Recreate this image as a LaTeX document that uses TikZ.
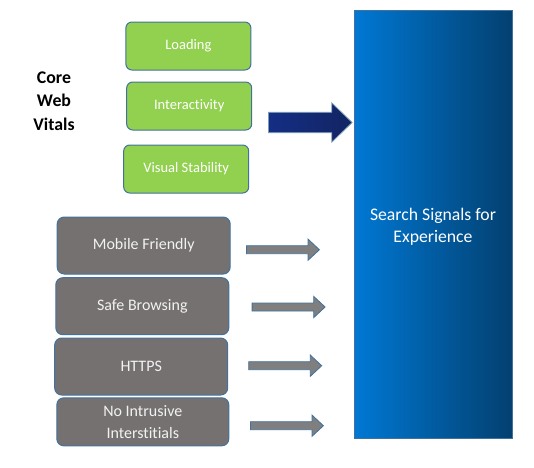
\documentclass[tikz,border=0pt]{standalone}
\usepackage{fontspec}
\setmainfont{Carlito}[Ligatures=NoCommon]
\usetikzlibrary{shapes.arrows}

\definecolor{vitalgreen}{RGB}{146,208,80}
\definecolor{edgeblue}{RGB}{65,113,156}
\definecolor{signalgray}{RGB}{118,113,113}
\definecolor{arrowgray}{RGB}{127,127,127}
\definecolor{signalblue}{RGB}{0,120,212}
\definecolor{signaldark}{RGB}{3,64,112}
\definecolor{navy}{RGB}{18,36,98}
\definecolor{navylight}{RGB}{20,46,132}

\tikzset{
  vital/.style={shape=rectangle,rounded corners=6pt,draw=edgeblue,line width=1pt,fill=vitalgreen,
    minimum width=125pt,minimum height=48pt,text=white,font=\fontsize{14.5}{21}\selectfont},
  signal/.style={shape=rectangle,rounded corners=7pt,draw=edgeblue,line width=1pt,fill=signalgray,
    minimum width=173pt,minimum height=57pt,text=white!95!black,align=center,font=\fontsize{16}{21.5}\selectfont},
  smallarrow/.style={single arrow,draw=edgeblue,line width=0.8pt,fill=arrowgray,inner sep=0pt,anchor=tail,
    inner ysep=3.6pt,minimum width=0pt,single arrow head extend=6.6pt,single arrow tip angle=86,minimum height=73pt}
}

\begin{document}
\begin{tikzpicture}[x=1pt,y=-1pt]
        \useasboundingbox (0,0) rectangle (534,467);
        % core web vitals
        \node[font=\bfseries\fontsize{17.8}{23.5}\selectfont,align=center](cwv) at (54,101) {Core\\Web\\Vitals};
        \node[vital](load) at (188.4,46)  {Loading};
        \node[vital](inter) at (189.2,106)  {Interactivity};
        \node[vital](stab) at (186.2,169)  {Visual Stability};
        \node[single arrow,draw=edgeblue!70!white,line width=0.8pt,left color=navylight,right color=navy,anchor=tail,
              inner sep=0pt,inner ysep=9.8pt,minimum width=0pt,single arrow head extend=9.4pt,
              single arrow tip angle=88,minimum height=83.7pt](bigarr) at (268,122.5) {};
        % other signals
        \node[signal](mob) at (143.7,245.5)  {Mobile Friendly};
        \node[signal](safe) at (142.3,306.2)  {Safe Browsing};
        \node[signal](https) at (141.2,366.5)  {HTTPS};
        \node[signal,minimum width=172pt,minimum height=48pt](intr) at (142.8,421.8)  {No Intrusive\\Interstitials};
        \node[smallarrow](arrmob) at (246,249.7) {};
        \node[smallarrow](arrsafe) at (251.7,307) {};
        \node[smallarrow](arrhttps) at (248.3,365.7) {};
        \node[smallarrow](arrintr) at (250,425.7) {};
        % experience box
        \node[shape=rectangle,draw=edgeblue,line width=0.8pt,left color=signalblue,right color=signaldark,
              minimum width=158pt,minimum height=428pt](exp) at (433,224) {};
        \node[text=white,align=center,font=\fontsize{17.7}{22}\selectfont](exptext) at ([yshift=-3pt]exp.center) {Search Signals for\\Experience};
\end{tikzpicture}
\end{document}
